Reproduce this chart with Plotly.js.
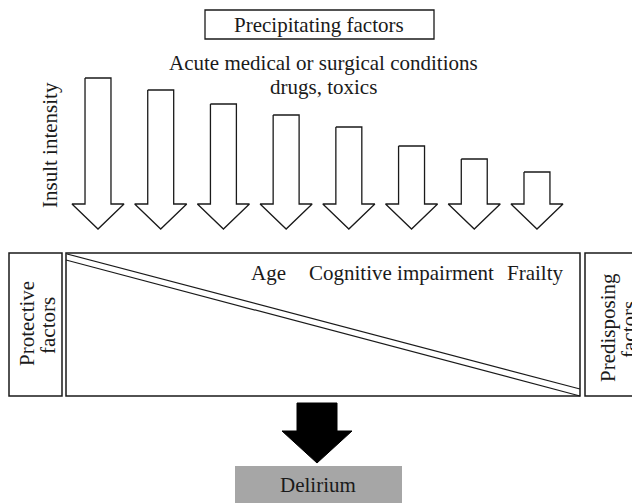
<!DOCTYPE html>
<html>
<head>
<meta charset="utf-8">
<script src="https://cdn.plot.ly/plotly-3.0.1.min.js"></script>
<style>html,body{margin:0;padding:0;background:#fff}#chart{width:632px;height:503px}</style>
</head>
<body>
<div id="chart"></div>
<script>
// ---- data ----
const arrowSlots = [1, 2, 3, 4, 5, 6, 7, 8];
const insultIntensity = [126, 114, 100, 89, 77, 58, 45, 32];
const titleTop = "Precipitating factors";
const precipitatingLines = ["Acute medical or surgical conditions", "drugs, toxics"];
const yAxisLabel = "Insult intensity";
const predisposingFactors = ["Age", "Cognitive impairment", "Frailty"];
const leftLabel = ["Protective", "factors"];
const rightLabel = ["Predisposing", "factors"];
const outcomeLabel = "Delirium";

// ---- geometry / styles ----
const W = 632, H = 503;
const FONT = "Liberation Serif";
const INK = "#1a1a1a";
const headBase = 299, tip = 274;           // y (up) of arrow head base / tip
const shaftHalf = 0.207, headHalf = 0.415; // in slot units
const slotPx0 = 98, slotStep = 62.71;

const traces = [];
arrowSlots.forEach((s, i) => {
  const top = headBase + insultIntensity[i];
  traces.push({
    type: "scatter", mode: "lines", xaxis: "x2", yaxis: "y",
    x: [s - shaftHalf, s + shaftHalf, s + shaftHalf, s + headHalf, s, s - headHalf, s - shaftHalf, s - shaftHalf],
    y: [top, top, headBase, headBase, tip, headBase, headBase, top],
    fill: "toself", fillcolor: "#ffffff",
    line: {color: INK, width: 1.3}, hoverinfo: "skip", showlegend: false
  });
});

// black arrow toward outcome
const bc = 317;
traces.push({
  type: "scatter", mode: "lines", x: [bc-20, bc+20, bc+20, bc+35, bc, bc-35, bc-20, bc-20],
  y: [100, 100, 72, 72, 40, 72, 72, 100], fill: "toself", fillcolor: "#000000",
  line: {color: "#000", width: 1}, hoverinfo: "skip", showlegend: false
});

const shapes = [
  {type: "rect", x0: 205, x1: 434, y0: H-39, y1: H-10, line: {color: INK, width: 1.3}},
  {type: "rect", x0: 9, x1: 62, y0: H-396, y1: H-253, line: {color: INK, width: 1.5}},
  {type: "rect", x0: 66, x1: 580, y0: H-396, y1: H-253, line: {color: INK, width: 1.5}},
  {type: "rect", x0: 585, x1: 645, y0: H-396, y1: H-253, line: {color: INK, width: 1.5}},
  {type: "line", x0: 67, y0: H-254, x1: 580, y1: H-389, line: {color: INK, width: 1.2}},
  {type: "line", x0: 66, y0: H-260, x1: 580, y1: H-396, line: {color: INK, width: 1.2}},
  {type: "rect", x0: 235, x1: 402, y0: -5, y1: H-466, fillcolor: "#a6a6a6", line: {width: 0}}
];

const f = {family: FONT, size: 21, color: INK};
const ann = (text, x, y, extra) => Object.assign({text, x, y, xref: "x", yref: "y", showarrow: false,
  xanchor: "center", yanchor: "middle", font: f}, extra || {});
const predX = [268, 401, 535];
const annotations = [
  ann(titleTop, 319, H-24.5),
  ann(precipitatingLines[0], 323, H-63),
  ann(precipitatingLines[1], 323, H-87),
  ann(yAxisLabel, 50, H-145, {textangle: -90}),
  ann(leftLabel[0], 27, H-324, {textangle: -90}),
  ann(leftLabel[1], 48, H-326, {textangle: -90}),
  ann(rightLabel[0], 608, H-328, {textangle: -90}),
  ann(rightLabel[1], 629, H-330, {textangle: -90}),
  ann(outcomeLabel, 318, H-485)
];
predisposingFactors.forEach((t, i) => annotations.push(ann(t, predX[i], H-273)));

const layout = {
  width: W, height: H, margin: {l: 0, r: 0, t: 0, b: 0, pad: 0},
  paper_bgcolor: "#fff", plot_bgcolor: "#fff", showlegend: false,
  font: {family: FONT, size: 21, color: INK},
  xaxis: {range: [0, W], visible: false, fixedrange: true},
  xaxis2: {range: [1 - slotPx0/slotStep, 1 + (W - slotPx0)/slotStep], overlaying: "x", visible: false, fixedrange: true},
  yaxis: {range: [0, H], visible: false, fixedrange: true},
  shapes, annotations
};
Plotly.newPlot("chart", traces, layout, {staticPlot: true, displayModeBar: false});
</script>
</body>
</html>
